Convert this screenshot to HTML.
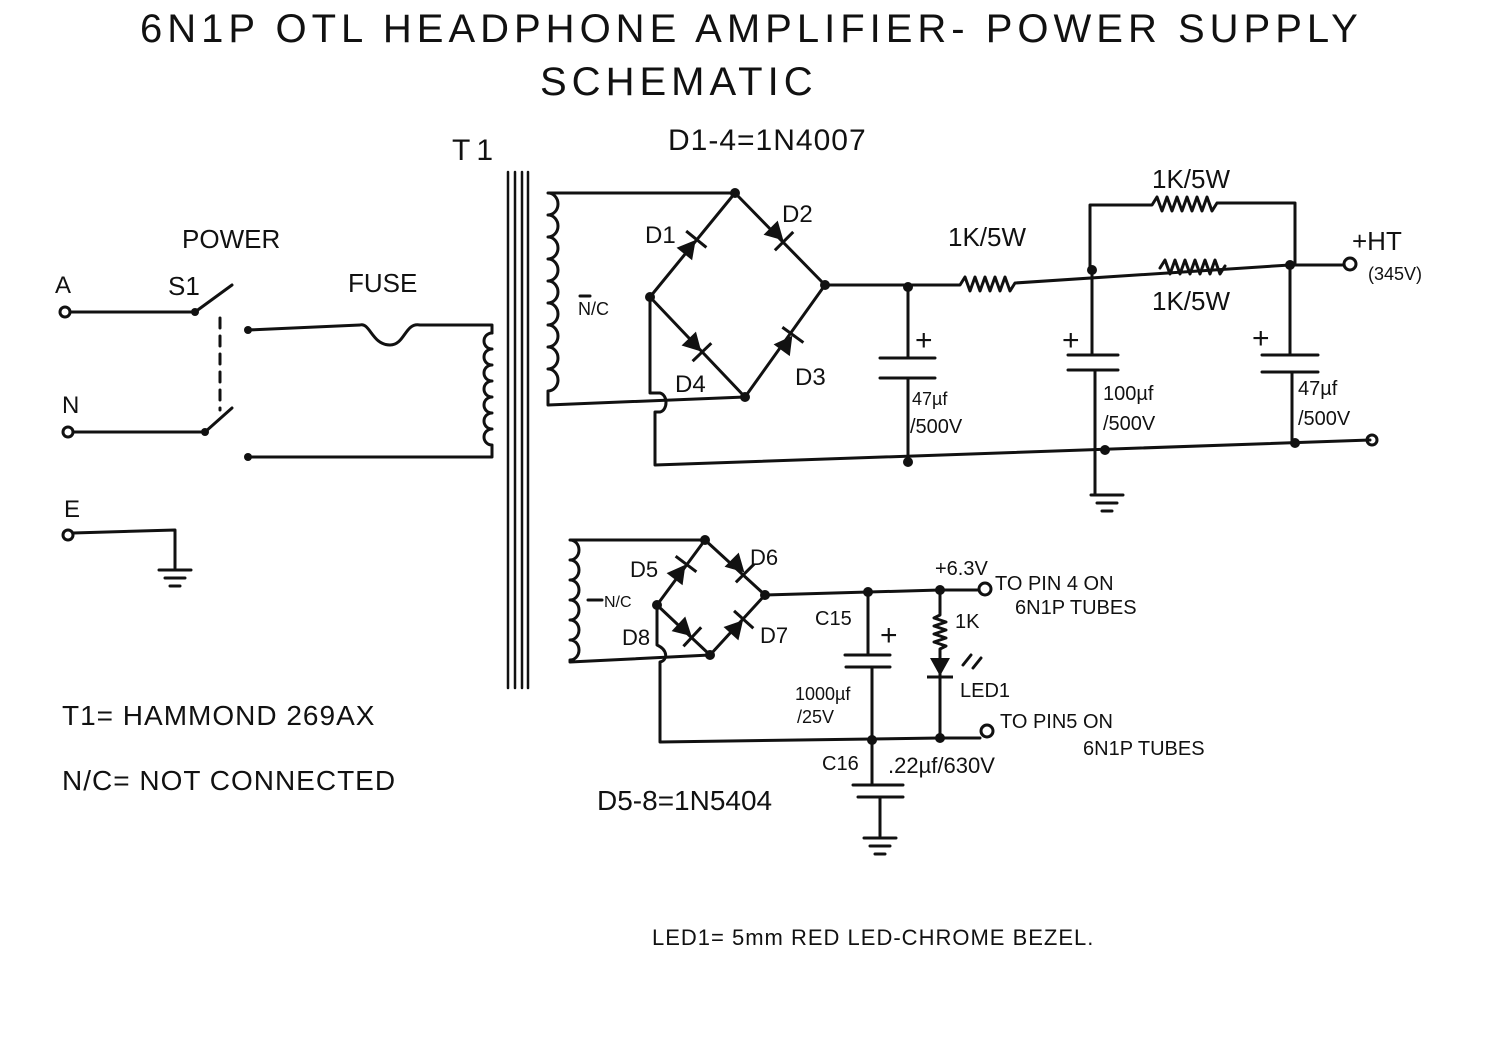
<!DOCTYPE html>
<html><head><meta charset="utf-8"><style>
html,body{margin:0;padding:0;background:#fff}
svg{display:block}
text{font-family:"Liberation Sans",sans-serif;fill:#111}
</style></head><body>
<svg width="1500" height="1060" viewBox="0 0 1500 1060" xmlns="http://www.w3.org/2000/svg">
<defs>
<g id="dio"><path d="M-9 -10 L9 0 L-9 10 Z" fill="#111"/><path d="M10 -13 L10 13" stroke="#111" stroke-width="3"/></g>
<g id="gnd" stroke="#111" stroke-width="3"><path d="M-16 0 H16 M-10 8 H10 M-5 16 H5"/></g>
</defs>
<rect width="1500" height="1060" fill="#fff"/>
<g font-size="40">
<text x="140" y="42" letter-spacing="5">6N1P OTL HEADPHONE AMPLIFIER- POWER SUPPLY</text>
<text x="540" y="95" letter-spacing="5">SCHEMATIC</text>
</g>
<g font-size="30">
<text x="452" y="160" letter-spacing="6">T1</text>
<text x="668" y="150" letter-spacing="1">D1-4=1N4007</text>
<text x="182" y="248" font-size="26">POWER</text>
<text x="55" y="293" font-size="24">A</text>
<text x="168" y="295" font-size="26">S1</text>
<text x="348" y="292" font-size="26">FUSE</text>
<text x="62" y="413" font-size="24">N</text>
<text x="64" y="517" font-size="24">E</text>
<text x="645" y="243" font-size="24">D1</text>
<text x="782" y="222" font-size="24">D2</text>
<text x="675" y="392" font-size="24">D4</text>
<text x="795" y="385" font-size="24">D3</text>
<text x="578" y="315" font-size="18">N/C</text>
<text x="948" y="246" font-size="26">1K/5W</text>
<text x="1152" y="188" font-size="26">1K/5W</text>
<text x="1152" y="310" font-size="26">1K/5W</text>
<text x="1352" y="250" font-size="26">+HT</text>
<text x="1368" y="280" font-size="18">(345V)</text>
<text x="915" y="350" font-size="30">+</text>
<text x="1062" y="350" font-size="30">+</text>
<text x="1252" y="348" font-size="30">+</text>
<text x="912" y="405" font-size="18">47µf</text>
<text x="910" y="433" font-size="20">/500V</text>
<text x="1103" y="400" font-size="20">100µf</text>
<text x="1103" y="430" font-size="20">/500V</text>
<text x="1298" y="395" font-size="20">47µf</text>
<text x="1298" y="425" font-size="20">/500V</text>
<text x="630" y="577" font-size="22">D5</text>
<text x="750" y="565" font-size="22">D6</text>
<text x="622" y="645" font-size="22">D8</text>
<text x="760" y="643" font-size="22">D7</text>
<text x="604" y="607" font-size="16">N/C</text>
<text x="815" y="625" font-size="20">C15</text>
<text x="880" y="645" font-size="30">+</text>
<text x="795" y="700" font-size="18">1000µf</text>
<text x="797" y="723" font-size="18">/25V</text>
<text x="935" y="575" font-size="20">+6.3V</text>
<text x="995" y="590" font-size="20">TO PIN 4 ON</text>
<text x="1015" y="614" font-size="20">6N1P TUBES</text>
<text x="955" y="628" font-size="20">1K</text>
<text x="960" y="697" font-size="20">LED1</text>
<text x="1000" y="728" font-size="20">TO PIN5 ON</text>
<text x="1083" y="755" font-size="20">6N1P TUBES</text>
<text x="822" y="770" font-size="20">C16</text>
<text x="888" y="773" font-size="22">.22µf/630V</text>
<text x="597" y="810" font-size="28">D5-8=1N5404</text>
<text x="62" y="725" font-size="28" letter-spacing="1">T1= HAMMOND 269AX</text>
<text x="62" y="790" font-size="28" letter-spacing="1">N/C= NOT CONNECTED</text>
<text x="652" y="945" font-size="22" letter-spacing="1">LED1= 5mm RED LED-CHROME BEZEL.</text>
</g>
<g fill="none" stroke="#111" stroke-width="3" stroke-linecap="round" stroke-linejoin="round">
<circle cx="65" cy="312" r="5"/><path d="M70 312 H195 L232 285"/>
<circle cx="68" cy="432" r="5"/><path d="M73 432 H205 L232 408"/>
<path d="M220 318 V410" stroke-dasharray="10 8"/>
<path d="M248 330 L360 325 C370 322 372 345 390 345 C405 345 405 322 420 325 L492 325 V333"/>
<path d="M492 333 a8 8 0 0 0 0 16 a8 8 0 0 0 0 16 a8 8 0 0 0 0 16 a8 8 0 0 0 0 16 a8 8 0 0 0 0 16 a8 8 0 0 0 0 16 a8 8 0 0 0 0 16 V457 H248"/>
<circle cx="68" cy="535" r="5"/><path d="M73 533 L175 530 V568"/>
<use href="#gnd" x="175" y="570"/>
<path d="M508 172 V688 M515 172 V688 M522 172 V688 M528 172 V688" stroke-width="2.5"/>
<path d="M735 193 H548 a10 11 0 0 1 0 22 a10 11 0 0 1 0 22 a10 11 0 0 1 0 22 a10 11 0 0 1 0 22 a10 11 0 0 1 0 22 a10 11 0 0 1 0 22 a10 11 0 0 1 0 22 a10 11 0 0 1 0 22 a10 11 0 0 1 0 22 V405 L745 397"/>
<path d="M580 296 H590"/>
<path d="M735 193 L650 297 L745 397 L825 285 Z"/>
<path d="M650 297 V393 H660 C668 395 668 410 660 412 H655 V465 L1370 440"/>
<path d="M825 285 H960 l5 -8 l5 14 l5 -14 l5 14 l5 -14 l5 14 l5 -14 l5 14 l5 -14 l5 14 l5 -8 L1290 265 H1343"/>
<circle cx="1350" cy="264" r="6"/>
<path d="M1090 270 V205 H1152 l5 -8 l5 14 l5 -14 l5 14 l5 -14 l5 14 l5 -14 l5 14 l5 -14 l5 14 l5 -14 l5 14 l5 -8 H1295 V265"/>
<path d="M1160 268 l5 -8 l5 14 l5 -14 l5 14 l5 -14 l5 14 l5 -14 l5 14 l5 -14 l5 14 l5 -14 l5 14 l5 -8"/>
<path d="M908 287 V358 M880 358 H935 M880 378 H935 M908 378 V462"/>
<path d="M1092 270 V355 M1068 355 H1118 M1068 370 H1118 M1095 370 V495"/>
<path d="M1290 265 V355 M1262 355 H1318 M1262 372 H1318 M1292 372 V442"/>
<use href="#gnd" x="1107" y="495"/>
<circle cx="1372" cy="440" r="5"/>
<path d="M705 540 H570 a9 10 0 0 1 0 20 a9 10 0 0 1 0 20 a9 10 0 0 1 0 20 a9 10 0 0 1 0 20 a9 10 0 0 1 0 20 a9 10 0 0 1 0 20 V662 L710 655"/>
<path d="M588 600 H602"/>
<path d="M705 540 L657 605 L710 655 L765 595 Z"/>
<path d="M657 605 V645 C668 650 668 660 660 662 V742 L940 738 H980"/>
<circle cx="987" cy="731" r="6"/>
<path d="M765 595 L940 590 H978"/><circle cx="985" cy="589" r="6"/>
<path d="M868 592 V655 M845 655 H890 M846 667 H890 M872 667 V785 M853 785 H903 M858 797 H903 M880 797 V836"/>
<use href="#gnd" x="880" y="838"/>
<path d="M940 592 V615 l-6 3 l12 4 l-12 4 l12 4 l-12 4 l12 4 l-12 4 l12 4 l-6 3 V735"/>
<path d="M963 665 l8 -10 M973 668 l8 -10"/>
</g>
<g>
<use href="#dio" transform="translate(690 247) rotate(-51)"/>
<use href="#dio" transform="translate(777 234) rotate(45)"/>
<use href="#dio" transform="translate(695 345) rotate(46)"/>
<use href="#dio" transform="translate(787 343) rotate(-54)"/>
<use href="#dio" transform="translate(680 572) rotate(-53)"/>
<use href="#dio" transform="translate(738 566) rotate(45)"/>
<use href="#dio" transform="translate(685 630) rotate(43)"/>
<use href="#dio" transform="translate(737 627) rotate(-48)"/>
<use href="#dio" transform="translate(940 667) rotate(90)"/>
</g>
<g fill="#111">
<circle cx="735" cy="193" r="5"/><circle cx="650" cy="297" r="5"/><circle cx="825" cy="285" r="5"/><circle cx="745" cy="397" r="5"/>
<circle cx="908" cy="287" r="5"/><circle cx="1092" cy="270" r="5"/><circle cx="1290" cy="265" r="5"/>
<circle cx="908" cy="462" r="5"/><circle cx="1105" cy="450" r="5"/><circle cx="1295" cy="443" r="5"/>
<circle cx="248" cy="330" r="4"/><circle cx="248" cy="457" r="4"/><circle cx="195" cy="312" r="4"/><circle cx="205" cy="432" r="4"/>
<circle cx="705" cy="540" r="5"/><circle cx="657" cy="605" r="5"/><circle cx="765" cy="595" r="5"/><circle cx="710" cy="655" r="5"/>
<circle cx="868" cy="592" r="5"/><circle cx="940" cy="590" r="5"/><circle cx="872" cy="740" r="5"/><circle cx="940" cy="738" r="5"/>
</g>
</svg>
</body></html>
